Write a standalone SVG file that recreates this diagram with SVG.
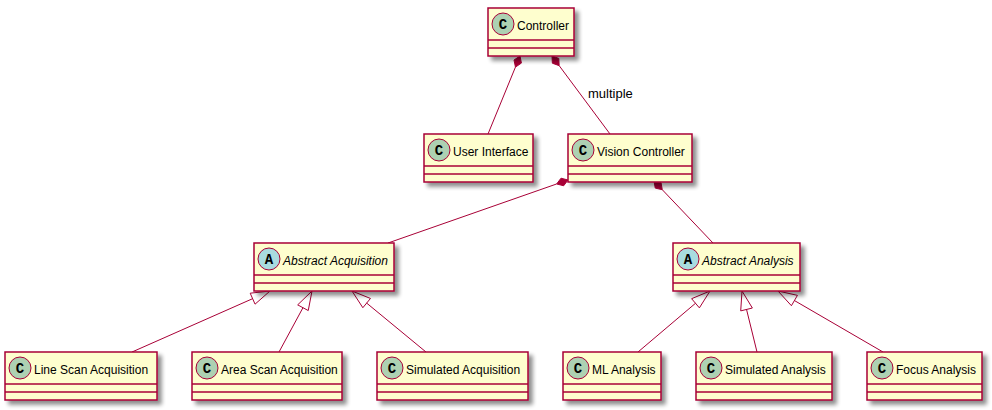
<svg xmlns="http://www.w3.org/2000/svg" width="992" height="410" viewBox="0 0 992 410">
<defs>
<filter id="sh" x="-10%" y="-10%" width="130%" height="150%">
<feGaussianBlur in="SourceAlpha" stdDeviation="2"/>
<feOffset dx="4" dy="4" result="b"/>
<feComponentTransfer><feFuncA type="linear" slope="0.45"/></feComponentTransfer>
<feMerge><feMergeNode/><feMergeNode in="SourceGraphic"/></feMerge>
</filter>
</defs>
<style>
.box{fill:#FEFECE;stroke:#A80036;stroke-width:1.5;filter:url(#sh)}
.sep{stroke:#A80036;stroke-width:1.5}
.cc{fill:#ADD1B2;stroke:#A80036;stroke-width:1}
.ca{fill:#A9DCDF;stroke:#A80036;stroke-width:1}
.ltr{font-family:"Liberation Mono",monospace;font-weight:bold;font-size:14px;fill:#000;text-anchor:middle}
.nm{font-family:"Liberation Sans",Arial,sans-serif;font-size:12px;fill:#000}
.it{font-style:italic}
.ln{stroke:#A80036;stroke-width:1;fill:none}
.dia{fill:#A80036;stroke:#A80036;stroke-width:1}
.tri{fill:#FFFFFF;stroke:#A80036;stroke-width:1}
.lbl{font-family:"Liberation Sans",Arial,sans-serif;font-size:13px;fill:#000}
</style>

<g id="connectors">
<polygon class="dia" points="520,56 521.42,63.07 515.44,67.10 514.02,60.03"/>
<line class="ln" x1="515.44" y1="67.10" x2="488" y2="134"/>
<polygon class="dia" points="552,56 558.79,58.43 559.16,65.63 552.37,63.21"/>
<line class="ln" x1="559.16" y1="65.63" x2="610" y2="134"/>
<text class="lbl" x="588" y="98">multiple</text>
<polygon class="dia" points="568,180 563.66,185.76 556.67,183.96 561.02,178.20"/>
<line class="ln" x1="556.67" y1="183.96" x2="388" y2="243"/>
<polygon class="dia" points="654,181 661.03,182.59 662.27,189.69 655.24,188.10"/>
<line class="ln" x1="662.27" y1="189.69" x2="713" y2="243"/>
<polygon class="tri" points="270,291 255.05,304.17 250.20,293.19"/>
<line class="ln" x1="252.62" y1="298.68" x2="132" y2="352"/>
<polygon class="tri" points="312,291 308.24,310.56 297.68,304.86"/>
<line class="ln" x1="302.96" y1="307.71" x2="279" y2="352"/>
<polygon class="tri" points="352,291 370.48,298.46 362.84,307.72"/>
<line class="ln" x1="366.66" y1="303.09" x2="426" y2="352"/>
<polygon class="tri" points="710,291 699.38,307.86 691.62,298.70"/>
<line class="ln" x1="695.50" y1="303.28" x2="638" y2="352"/>
<polygon class="tri" points="742,291 752.37,308.02 740.71,310.88"/>
<line class="ln" x1="746.54" y1="309.45" x2="757" y2="352"/>
<polygon class="tri" points="778,291 797.44,295.35 791.42,305.73"/>
<line class="ln" x1="794.43" y1="300.54" x2="883" y2="352"/>
</g>

<g id="controller">
<rect class="box" x="488" y="8" width="86" height="48"/>
<circle class="cc" cx="503" cy="24" r="11"/>
<text class="ltr" x="503" y="28.5">C</text>
<text class="nm" x="517" y="29.5">Controller</text>
<line class="sep" x1="488" y1="40" x2="574" y2="40"/>
<line class="sep" x1="488" y1="48" x2="574" y2="48"/>
</g>

<g id="user-interface">
<rect class="box" x="424" y="134" width="109" height="48"/>
<circle class="cc" cx="439" cy="150" r="11"/>
<text class="ltr" x="439" y="154.5">C</text>
<text class="nm" x="453" y="155.5">User Interface</text>
<line class="sep" x1="424" y1="166" x2="533" y2="166"/>
<line class="sep" x1="424" y1="174" x2="533" y2="174"/>
</g>

<g id="vision-controller">
<rect class="box" x="568" y="134" width="124" height="48"/>
<circle class="cc" cx="583" cy="150" r="11"/>
<text class="ltr" x="583" y="154.5">C</text>
<text class="nm" x="597" y="155.5">Vision Controller</text>
<line class="sep" x1="568" y1="166" x2="692" y2="166"/>
<line class="sep" x1="568" y1="174" x2="692" y2="174"/>
</g>

<g id="abstract-acquisition">
<rect class="box" x="254" y="243" width="140" height="48"/>
<circle class="ca" cx="269" cy="259" r="11"/>
<text class="ltr" x="269" y="263.5">A</text>
<text class="nm it" x="283" y="264.5">Abstract Acquisition</text>
<line class="sep" x1="254" y1="275" x2="394" y2="275"/>
<line class="sep" x1="254" y1="283" x2="394" y2="283"/>
</g>

<g id="abstract-analysis">
<rect class="box" x="673" y="243" width="127" height="48"/>
<circle class="ca" cx="688" cy="259" r="11"/>
<text class="ltr" x="688" y="263.5">A</text>
<text class="nm it" x="702" y="264.5">Abstract Analysis</text>
<line class="sep" x1="673" y1="275" x2="800" y2="275"/>
<line class="sep" x1="673" y1="283" x2="800" y2="283"/>
</g>

<g id="line-scan-acquisition">
<rect class="box" x="5" y="352" width="152" height="48"/>
<circle class="cc" cx="20" cy="368" r="11"/>
<text class="ltr" x="20" y="372.5">C</text>
<text class="nm" x="34" y="373.5">Line Scan Acquisition</text>
<line class="sep" x1="5" y1="384" x2="157" y2="384"/>
<line class="sep" x1="5" y1="392" x2="157" y2="392"/>
</g>

<g id="area-scan-acquisition">
<rect class="box" x="192" y="352" width="150" height="48"/>
<circle class="cc" cx="207" cy="368" r="11"/>
<text class="ltr" x="207" y="372.5">C</text>
<text class="nm" x="221" y="373.5">Area Scan Acquisition</text>
<line class="sep" x1="192" y1="384" x2="342" y2="384"/>
<line class="sep" x1="192" y1="392" x2="342" y2="392"/>
</g>

<g id="simulated-acquisition">
<rect class="box" x="377" y="352" width="151" height="48"/>
<circle class="cc" cx="392" cy="368" r="11"/>
<text class="ltr" x="392" y="372.5">C</text>
<text class="nm" x="406" y="373.5">Simulated Acquisition</text>
<line class="sep" x1="377" y1="384" x2="528" y2="384"/>
<line class="sep" x1="377" y1="392" x2="528" y2="392"/>
</g>

<g id="ml-analysis">
<rect class="box" x="563" y="352" width="98" height="48"/>
<circle class="cc" cx="578" cy="368" r="11"/>
<text class="ltr" x="578" y="372.5">C</text>
<text class="nm" x="592" y="373.5">ML Analysis</text>
<line class="sep" x1="563" y1="384" x2="661" y2="384"/>
<line class="sep" x1="563" y1="392" x2="661" y2="392"/>
</g>

<g id="simulated-analysis">
<rect class="box" x="696" y="352" width="136" height="48"/>
<circle class="cc" cx="711" cy="368" r="11"/>
<text class="ltr" x="711" y="372.5">C</text>
<text class="nm" x="725" y="373.5">Simulated Analysis</text>
<line class="sep" x1="696" y1="384" x2="832" y2="384"/>
<line class="sep" x1="696" y1="392" x2="832" y2="392"/>
</g>

<g id="focus-analysis">
<rect class="box" x="867" y="352" width="115" height="48"/>
<circle class="cc" cx="882" cy="368" r="11"/>
<text class="ltr" x="882" y="372.5">C</text>
<text class="nm" x="896" y="373.5">Focus Analysis</text>
<line class="sep" x1="867" y1="384" x2="982" y2="384"/>
<line class="sep" x1="867" y1="392" x2="982" y2="392"/>
</g>
</svg>
